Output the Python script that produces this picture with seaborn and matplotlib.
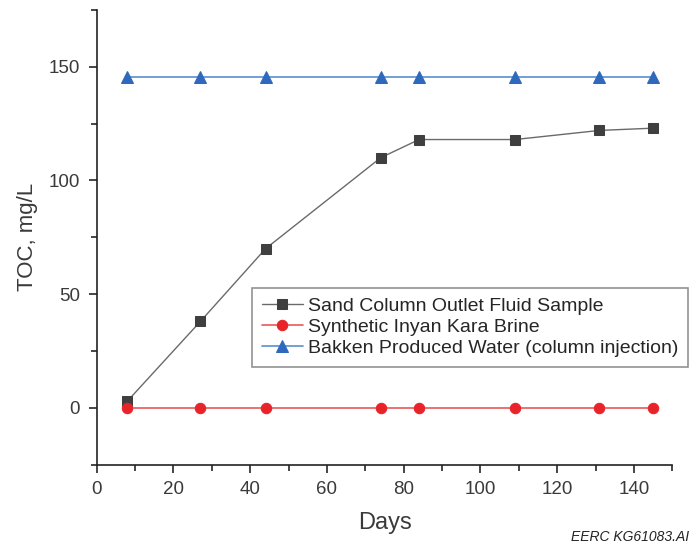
import numpy as np
import pandas as pd
import seaborn as sns
import matplotlib.pyplot as plt
from matplotlib.ticker import MultipleLocator

# データ
days = [8, 27, 44, 74, 84, 109, 131, 145]
sand_outlet = [3, 38, 70, 110, 118, 118, 122, 123]
inyan_kara = [0, 0, 0, 0, 0, 0, 0, 0]
bakken = [145.5, 145.5, 145.5, 145.5, 145.5, 145.5, 145.5, 145.5]

labels = ["Sand Column Outlet Fluid Sample",
          "Synthetic Inyan Kara Brine",
          "Bakken Produced Water (column injection)"]

sns.set_style("ticks")
plt.rcParams['font.family'] = ['Liberation Sans', 'DejaVu Sans']

fig = plt.figure(figsize=(6.96, 5.5), dpi=100)
ax = fig.add_axes([0.139, 0.155, 0.827, 0.827])

# 系列ごとに描画
sns.lineplot(x=days, y=sand_outlet, ax=ax, color="#6a6a6a", lw=1.0,
             marker="s", markersize=6.5, markerfacecolor="#3f3f3f",
             markeredgecolor="#3f3f3f", label=labels[0])
sns.lineplot(x=days, y=inyan_kara, ax=ax, color="#e85a5a", lw=1.2,
             marker="o", markersize=7.5, markerfacecolor="#e8242a",
             markeredgecolor="#e8242a", label=labels[1])
sns.lineplot(x=days, y=bakken, ax=ax, color="#5a8fcc", lw=1.2,
             marker="^", markersize=8.5, markerfacecolor="#2e69bd",
             markeredgecolor="#2e69bd", label=labels[2])

ax.set_xlim(0, 150)
ax.set_ylim(-25, 175)
ax.xaxis.set_major_locator(MultipleLocator(20))
ax.xaxis.set_minor_locator(MultipleLocator(10))
ax.yaxis.set_major_locator(MultipleLocator(50))
ax.yaxis.set_minor_locator(MultipleLocator(25))
ax.tick_params(which="major", length=6, width=1.2, labelsize=13.5,
               labelcolor="#3a3a3a", pad=6)
ax.tick_params(which="minor", length=4, width=1.2)

for s in ["top", "right"]:
    ax.spines[s].set_visible(False)
for s in ["left", "bottom"]:
    ax.spines[s].set_linewidth(1.2)
    ax.spines[s].set_color("#222222")

ax.set_xlabel("Days", fontsize=17, color="#3a3a3a", labelpad=10)
ax.set_ylabel("TOC, mg/L", fontsize=16, color="#3a3a3a", labelpad=8)

leg = ax.legend(loc="upper left", bbox_to_anchor=(0.362, 0.477),
                bbox_transform=fig.transFigure, fontsize=14,
                frameon=True, fancybox=False, edgecolor="#777777",
                handlelength=2.1, handletextpad=0.3, borderpad=0.5,
                labelspacing=0.18, borderaxespad=0)
leg.get_frame().set_linewidth(1.2)

fig.text(0.99, 0.024, "EERC KG61083.AI", ha="right", va="center",
         fontsize=10, style="italic", color="#222222")

fig.savefig("out.png", dpi=100)
